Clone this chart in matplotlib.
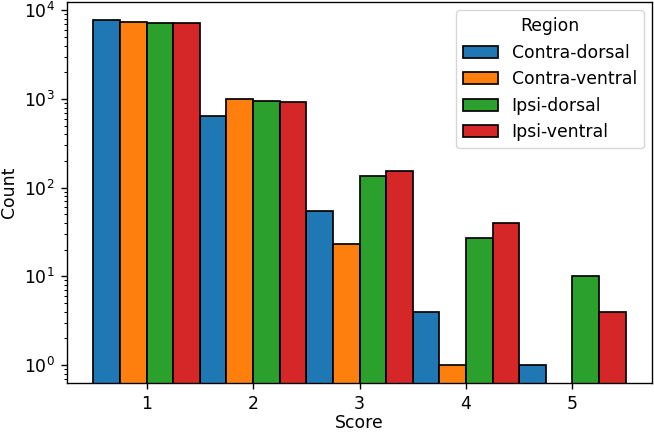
import matplotlib
matplotlib.use("Agg")
import matplotlib.pyplot as plt
import numpy as np

scores = [1, 2, 3, 4, 5]
regions = ["Contra-dorsal", "Contra-ventral", "Ipsi-dorsal", "Ipsi-ventral"]
contra_dorsal = [7800, 640, 54, 4, 1]
contra_ventral = [7450, 1000, 23, 1, 0]
ipsi_dorsal = [7250, 960, 135, 27, 10]
ipsi_ventral = [7200, 925, 154, 40, 4]
colors = ["#1f77b4", "#ff7f0e", "#2ca02c", "#d62728"]

series = [contra_dorsal, contra_ventral, ipsi_dorsal, ipsi_ventral]

s = 1.24
plt.rcParams.update({
    "font.size": 10 * s,
    "axes.linewidth": 0.8 * s,
    "xtick.major.width": 0.8 * s,
    "ytick.major.width": 0.8 * s,
    "xtick.minor.width": 0.6 * s,
    "ytick.minor.width": 0.6 * s,
    "xtick.major.size": 3.5 * s,
    "ytick.major.size": 3.5 * s,
    "xtick.minor.size": 2 * s,
    "ytick.minor.size": 2 * s,
    "xtick.major.pad": 3.5 * s,
    "ytick.major.pad": 3.5 * s,
    "legend.frameon": True,
})

fig = plt.figure(figsize=(6.54, 4.33), dpi=100)
ax = fig.add_axes([66.7/654, 1 - 382.7/433, (652.3 - 66.7)/654, (382.7 - 1.5)/433])

w = 0.25
x = np.array(scores, dtype=float)
for i, (name, vals, c) in enumerate(zip(regions, series, colors)):
    offs = -0.5 + w * i
    v = np.array(vals, dtype=float)
    mask = v > 0
    ax.bar(x[mask] + offs, v[mask], width=w, align="edge", color=c,
           edgecolor="black", linewidth=1.0 * s, label=name)

ax.set_yscale("log")
ax.set_ylim(0.632, 12600)
ax.set_xlim(0.25, 5.75)
ax.set_xticks(scores)
ax.set_xlabel("Score", labelpad=1)
ax.set_ylabel("Count")
ax.legend(title="Region", loc="upper right")

fig.savefig("out.png", dpi=100)
